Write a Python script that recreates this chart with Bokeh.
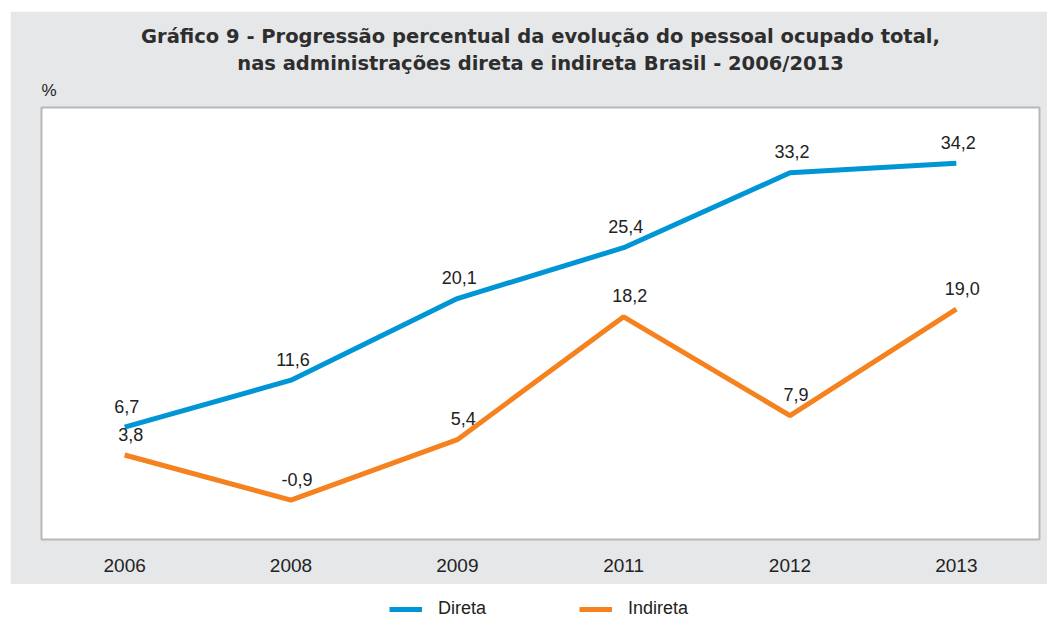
from bokeh.plotting import figure
from bokeh.models import ColumnDataSource, Title, Legend, LegendItem, Range1d
from bokeh.layouts import column
from bokeh.embed import file_html
from bokeh.resources import INLINE
from bokeh.core.properties import value

years = ["2006", "2008", "2009", "2011", "2012", "2013"]
direta = [6.7, 11.6, 20.1, 25.4, 33.2, 34.2]
indireta = [3.8, -0.9, 5.4, 18.2, 7.9, 19.0]
direta_lbl = ["6,7", "11,6", "20,1", "25,4", "33,2", "34,2"]
indireta_lbl = ["3,8", "-0,9", "5,4", "18,2", "7,9", "19,0"]

BLUE = "#0096d6"
ORANGE = "#f5821f"
GRAY = "#e6e7e9"
FONT = "Liberation Sans"
TFONT = "DejaVu Sans"

p = figure(x_range=years, y_range=Range1d(-5, 40), width=1037, height=573,
           output_backend="svg", toolbar_location=None,
           min_border_left=31, min_border_right=8, min_border_top=96, min_border_bottom=45)
p.margin = (11, 0, 0, 10)
p.background_fill_color = "white"
p.border_fill_color = GRAY
p.outline_line_color = "#b8b8b8"
p.outline_line_width = 2
p.grid.visible = False

p.yaxis.visible = False
p.xaxis.axis_line_color = None
p.xaxis.major_tick_line_color = None
p.xaxis.minor_tick_line_color = None
p.xaxis.major_label_text_font = FONT
p.xaxis.major_label_text_font_size = "19px"
p.xaxis.major_label_text_color = "#222222"
p.xaxis.major_label_standoff = 13

src = ColumnDataSource(dict(x=years, d=direta, i=indireta, dl=direta_lbl, il=indireta_lbl))
p.line("x", "d", source=src, line_color=BLUE, line_width=5)
p.line("x", "i", source=src, line_color=ORANGE, line_width=5)
p.text("x", "d", text="dl", source=src, text_align="center", text_baseline="middle",
       y_offset=-21, x_offset=2, text_font=value(FONT), text_font_size="18px", text_color="#222222")
p.text("x", "i", text="il", source=src, text_align="center", text_baseline="middle",
       y_offset=-21, x_offset=6, text_font=value(FONT), text_font_size="18px", text_color="#222222")

p.title.text = "Gráfico 9 - Progressão percentual da evolução do pessoal ocupado total,"
p.title.align = "center"
p.title.text_font = TFONT
p.title.text_font_size = "19.5px"
p.title.text_font_style = "bold"
p.title.text_color = "#2e2e2e"
p.title.standoff = 4

pct = Title(text="%", align="left", vertical_align="top", text_font=FONT, text_font_size="17px",
            text_font_style="normal", text_color="#222222", standoff=12)
t2 = Title(text="nas administrações direta e indireta Brasil - 2006/2013", align="center",
           text_font=TFONT, text_font_size="19.5px", text_font_style="bold", text_color="#2e2e2e",
           standoff=0)
p.add_layout(pct, "above")
p.add_layout(t2, "above")

# legend figure
lg = figure(width=1037, height=33, output_backend="svg", toolbar_location=None,
            x_range=Range1d(0, 1), y_range=Range1d(0, 1), min_border=0)
lg.margin = (0, 0, 0, 10)
lg.outline_line_color = None
lg.axis.visible = False
lg.grid.visible = False
r1 = lg.line([-5, -4], [-5, -5], line_color=BLUE, line_width=5)
r2 = lg.line([-5, -4], [-5, -5], line_color=ORANGE, line_width=5)
leg = Legend(items=[LegendItem(label="Direta", renderers=[r1]),
                    LegendItem(label="Indireta", renderers=[r2])],
             orientation="horizontal", location=(348, -2),
             glyph_width=33, glyph_height=20, label_standoff=16, spacing=93,
             label_text_font=FONT, label_text_font_size="18px", label_text_color="#222222",
             border_line_color=None, background_fill_alpha=0, padding=0, margin=0)
lg.add_layout(leg, "center")

layout = column(p, lg, spacing=0)
open("out.html", "w").write(file_html(layout, INLINE))
